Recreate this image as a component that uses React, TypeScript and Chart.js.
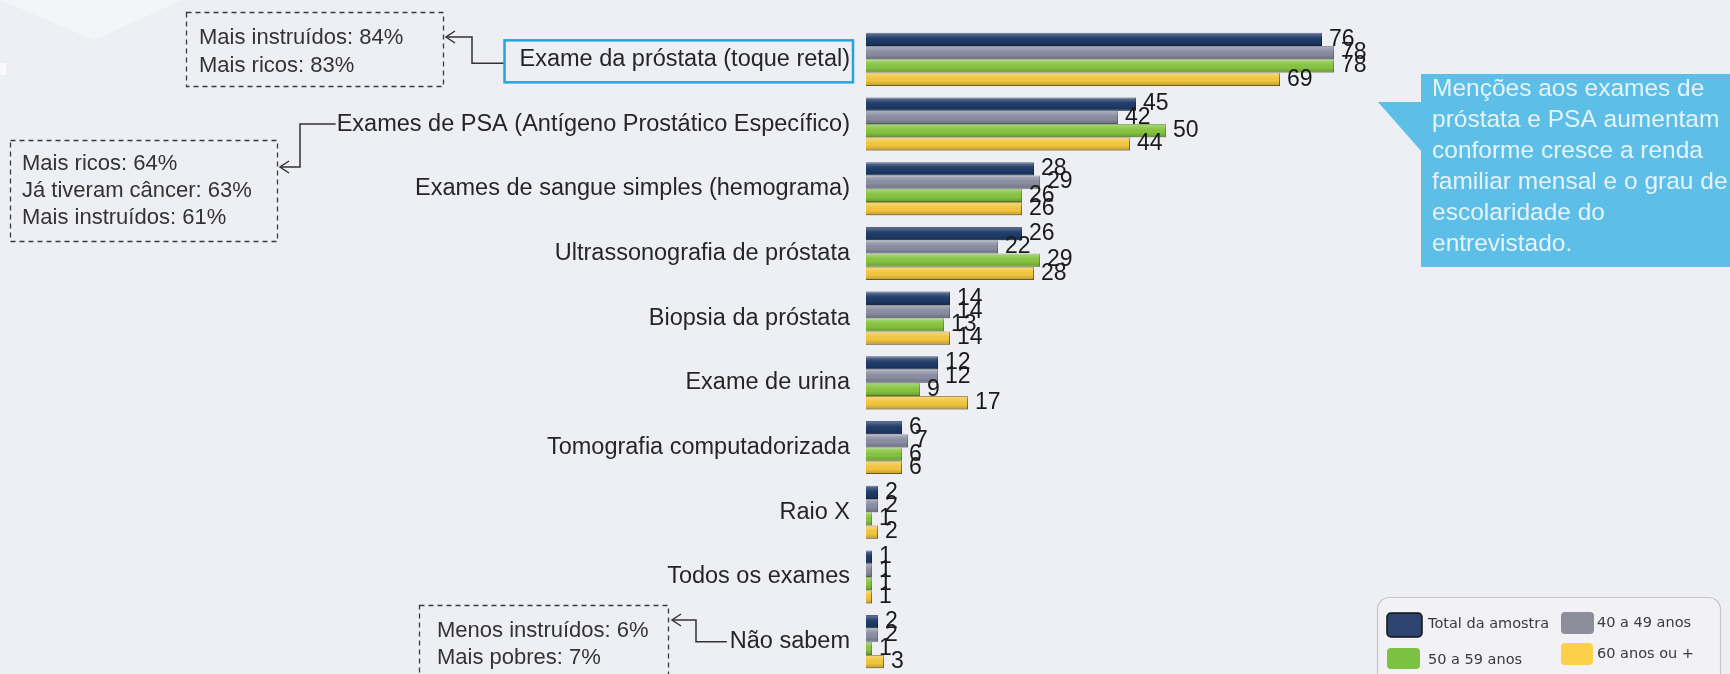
import React, { useEffect, useRef } from 'react';
import { Chart, registerables } from 'chart.js';
Chart.register(...registerables);

const categories = [
  'Exame da próstata (toque retal)',
  'Exames de PSA (Antígeno Prostático Específico)',
  'Exames de sangue simples (hemograma)',
  'Ultrassonografia de próstata',
  'Biopsia da próstata',
  'Exame de urina',
  'Tomografia computadorizada',
  'Raio X',
  'Todos os exames',
  'Não sabem',
];
const seriesNames = ['Total da amostra', '40 a 49 anos', '50 a 59 anos', '60 anos ou +'];
const totalAmostra = [76, 45, 28, 26, 14, 12, 6, 2, 1, 2];
const anos40a49 = [78, 42, 29, 22, 14, 12, 7, 2, 1, 2];
const anos50a59 = [78, 50, 26, 29, 13, 9, 6, 1, 1, 1];
const anos60mais = [69, 44, 26, 28, 14, 17, 6, 2, 1, 3];

const notesProstata = ['Mais instruídos: 84%', 'Mais ricos: 83%'];
const notesPSA = ['Mais ricos: 64%', 'Já tiveram câncer: 63%', 'Mais instruídos: 61%'];
const notesNaoSabem = ['Menos instruídos: 6%', 'Mais pobres: 7%'];
const calloutLines = [
  'Menções aos exames de',
  'próstata e PSA aumentam',
  'conforme cresce a renda',
  'familiar mensal e o grau de',
  'escolaridade do',
  'entrevistado.',
];

const seriesColors = ['#1f3b68', '#898da0', '#86c441', '#f3c640'];
const seriesBorders = ['#142a4c', '#6b6f80', '#5e9a28', '#8f6f1c'];
const legendColors = ['#2d4470', '#8c8e9c', '#7cc242', '#fdd04a'];

const FONT = '"Liberation Sans", Arial, sans-serif';
const TICK_SIZE = 23.5;
const AXIS_WIDTH = 866;
const TICK_PAD = 16;

function arrowLeft(ctx: CanvasRenderingContext2D, x: number, y: number) {
  ctx.beginPath();
  ctx.moveTo(x + 9, y - 6);
  ctx.lineTo(x, y);
  ctx.lineTo(x + 9, y + 6);
  ctx.stroke();
}

function dashedBox(ctx: CanvasRenderingContext2D, x: number, y: number, w: number, h: number, lines: string[], tx: number, ty: number, lh: number) {
  ctx.save();
  ctx.setLineDash([5, 4]);
  ctx.strokeStyle = '#3a3a3a';
  ctx.lineWidth = 1.3;
  ctx.strokeRect(x + 0.5, y + 0.5, w, h);
  ctx.setLineDash([]);
  ctx.fillStyle = '#333333';
  ctx.font = `22px ${FONT}`;
  ctx.textAlign = 'left';
  ctx.textBaseline = 'alphabetic';
  lines.forEach((t, i) => ctx.fillText(t, tx, ty + i * lh));
  ctx.restore();
}

const bgPlugin = {
  id: 'bgPlugin',
  beforeDraw(chart: any) {
    const { ctx, width, height } = chart;
    ctx.save();
    ctx.fillStyle = '#eeeff4';
    ctx.fillRect(0, 0, width, height);
    ctx.fillStyle = 'rgba(255,255,255,0.38)';
    ctx.beginPath();
    ctx.moveTo(0, 0);
    ctx.lineTo(182, 0);
    ctx.lineTo(94, 40);
    ctx.closePath();
    ctx.fill();
    ctx.fillStyle = 'rgba(255,255,255,0.7)';
    ctx.fillRect(0, 63, 6, 12);
    ctx.restore();
  },
};

const barPlugin = {
  id: 'barPlugin',
  afterDatasetsDraw(chart: any) {
    const { ctx } = chart;
    ctx.save();
    chart.data.datasets.forEach((ds: any, di: number) => {
      const meta = chart.getDatasetMeta(di);
      meta.data.forEach((bar: any) => {
        const { x, y, base, height } = bar.getProps(['x', 'y', 'base', 'height'], true);
        const top = y - height / 2;
        const g = ctx.createLinearGradient(0, top, 0, top + height);
        g.addColorStop(0, 'rgba(255,255,255,0.32)');
        g.addColorStop(0.35, 'rgba(255,255,255,0.06)');
        g.addColorStop(0.6, 'rgba(0,0,0,0)');
        g.addColorStop(1, 'rgba(0,0,0,0.22)');
        ctx.fillStyle = g;
        ctx.fillRect(base, top, x - base, height);
      });
    });
    ctx.fillStyle = '#1a1a1a';
    ctx.font = `23px ${FONT}`;
    ctx.textAlign = 'left';
    ctx.textBaseline = 'middle';
    chart.data.datasets.forEach((ds: any, di: number) => {
      const meta = chart.getDatasetMeta(di);
      meta.data.forEach((bar: any, i: number) => {
        const { x, y } = bar.getProps(['x', 'y'], true);
        ctx.fillText(String(ds.data[i]), x + 7, y);
      });
    });
    ctx.restore();
  },
};

const annotationPlugin = {
  id: 'annotationPlugin',
  afterDraw(chart: any) {
    const { ctx } = chart;
    const yScale = chart.scales.y;
    const labelRight = AXIS_WIDTH - TICK_PAD;
    ctx.save();
    ctx.font = `${TICK_SIZE}px ${FONT}`;
    const textLeft = (i: number) => labelRight - ctx.measureText(categories[i]).width;

    // highlighted label box
    const y0 = yScale.getPixelForValue(0);
    const lbLeft = textLeft(0) - 15;
    ctx.strokeStyle = '#27a3dc';
    ctx.lineWidth = 2.5;
    ctx.strokeRect(lbLeft, y0 - 19, labelRight + 3 - lbLeft, 42);

    // connectors
    ctx.strokeStyle = '#333333';
    ctx.lineWidth = 1.5;
    ctx.beginPath();
    ctx.moveTo(lbLeft - 1, y0 + 4);
    ctx.lineTo(472, y0 + 4);
    ctx.lineTo(472, 37);
    ctx.lineTo(446, 37);
    ctx.stroke();
    arrowLeft(ctx, 446, 37);

    const y1 = yScale.getPixelForValue(1);
    ctx.beginPath();
    ctx.moveTo(textLeft(1) - 1, y1);
    ctx.lineTo(300, y1);
    ctx.lineTo(300, 167);
    ctx.lineTo(280, 167);
    ctx.stroke();
    arrowLeft(ctx, 280, 167);

    const y9 = yScale.getPixelForValue(9);
    ctx.beginPath();
    ctx.moveTo(textLeft(9) - 3, y9);
    ctx.lineTo(696, y9);
    ctx.lineTo(696, 620);
    ctx.lineTo(672, 620);
    ctx.stroke();
    arrowLeft(ctx, 672, 620);
    ctx.restore();

    dashedBox(ctx, 186, 12, 257, 74, notesProstata, 199, 44, 28);
    dashedBox(ctx, 10, 140, 267, 101, notesPSA, 22, 170, 27);
    dashedBox(ctx, 419, 605, 249, 95, notesNaoSabem, 437, 637, 27);

    // callout
    ctx.save();
    ctx.fillStyle = '#5dbee7';
    ctx.fillRect(1421, 74, 1730 - 1421, 193);
    ctx.beginPath();
    ctx.moveTo(1378, 102);
    ctx.lineTo(1422, 102);
    ctx.lineTo(1422, 152);
    ctx.closePath();
    ctx.fill();
    ctx.fillStyle = '#e6f4fb';
    ctx.font = `24.5px ${FONT}`;
    ctx.textAlign = 'left';
    ctx.textBaseline = 'alphabetic';
    calloutLines.forEach((t, i) => ctx.fillText(t, 1432, 96 + i * 31));
    ctx.restore();

    // legend
    ctx.save();
    ctx.fillStyle = '#f2f2f6';
    ctx.strokeStyle = '#c6c6ca';
    ctx.lineWidth = 1.2;
    ctx.beginPath();
    ctx.roundRect(1377.5, 597.5, 343, 95, 12);
    ctx.fill();
    ctx.stroke();
    const items = [
      { x: 1387, y: 613, w: 35, h: 24, tx: 1428, ty: 624 },
      { x: 1561, y: 612, w: 33, h: 22, tx: 1597, ty: 623 },
      { x: 1387, y: 648, w: 33, h: 21, tx: 1428, ty: 660 },
      { x: 1561, y: 643, w: 32, h: 22, tx: 1597, ty: 654 },
    ];
    ctx.font = `14.5px "DejaVu Sans", sans-serif`;
    ctx.textBaseline = 'middle';
    items.forEach((it, i) => {
      ctx.fillStyle = legendColors[i];
      ctx.beginPath();
      ctx.roundRect(it.x, it.y, it.w, it.h, 4);
      ctx.fill();
      if (i === 0) {
        ctx.strokeStyle = '#111111';
        ctx.lineWidth = 1.5;
        ctx.stroke();
      }
      ctx.fillStyle = '#3a3a3a';
      ctx.fillText(seriesNames[i], it.tx, it.ty);
    });
    ctx.restore();
  },
};

export default function App() {
  const ref = useRef<HTMLCanvasElement>(null);
  useEffect(() => {
    const canvas = ref.current;
    if (!canvas) return;
    const series = [totalAmostra, anos40a49, anos50a59, anos60mais];
    const chart = new Chart(canvas, {
      type: 'bar',
      data: {
        labels: categories,
        datasets: series.map((d, i) => ({
          label: seriesNames[i],
          data: d,
          backgroundColor: seriesColors[i],
          borderColor: seriesBorders[i],
          borderWidth: 1,
          categoryPercentage: 0.82,
          barPercentage: 1,
        })),
      },
      options: {
        indexAxis: 'y',
        responsive: false,
        animation: false,
        layout: { padding: { top: 27, right: 264, bottom: 0, left: 0 } },
        plugins: { legend: { display: false }, tooltip: { enabled: false } },
        scales: {
          x: { display: false, min: 0, max: 100 },
          y: {
            position: 'left',
            grid: { display: false, drawTicks: false },
            border: { display: false },
            ticks: {
              color: '#262626',
              padding: TICK_PAD,
              font: { family: FONT, size: TICK_SIZE },
            },
            afterFit(scale: any) {
              scale.width = AXIS_WIDTH;
              scale.paddingTop = 0;
              scale.paddingBottom = 0;
            },
          },
        },
      },
      plugins: [bgPlugin, barPlugin, annotationPlugin],
    } as any);
    return () => chart.destroy();
  }, []);
  return (
    <div style={{ position: 'fixed', left: 0, top: 0, width: 1730, height: 674 }}>
      <canvas ref={ref} width={1730} height={674} style={{ display: 'block', width: 1730, height: 674 }} />
    </div>
  );
}
